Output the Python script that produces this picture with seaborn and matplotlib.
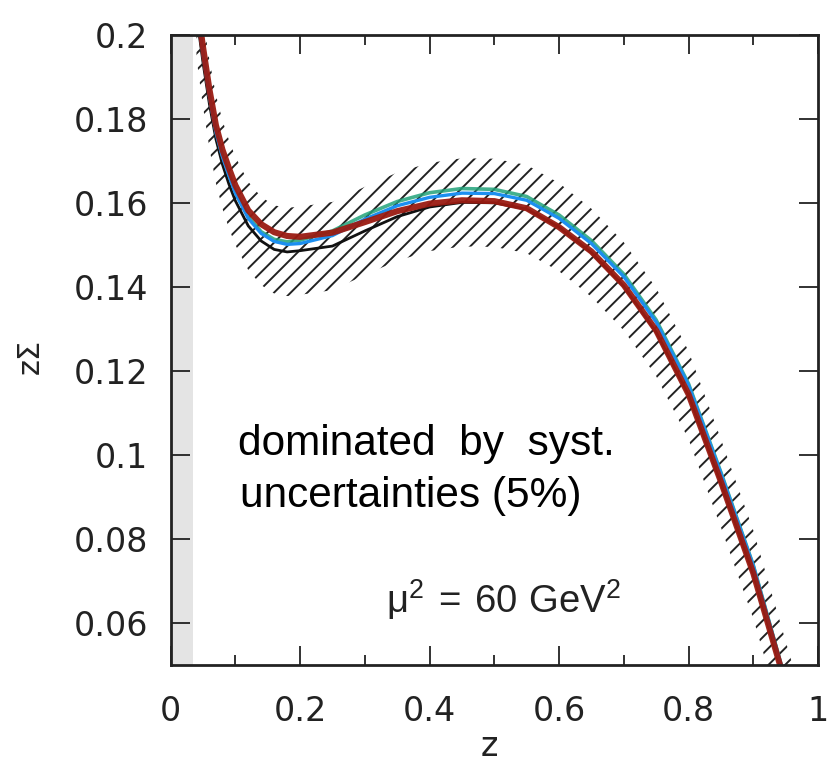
import matplotlib
matplotlib.use("Agg")
import matplotlib.pyplot as plt
import seaborn as sns
import pandas as pd
from matplotlib.ticker import FixedLocator, FixedFormatter

# ---- data ----
z = [0.040, 0.050, 0.060, 0.070, 0.080, 0.090, 0.100, 0.120, 0.140, 0.160,
     0.180, 0.200, 0.250, 0.300, 0.350, 0.400, 0.450, 0.500, 0.550, 0.600,
     0.650, 0.700, 0.750, 0.800, 0.850, 0.900, 0.940, 0.960]

black = [0.2050, 0.1935, 0.1835, 0.1752, 0.1692, 0.1645, 0.1605, 0.1545, 0.1509, 0.1489,
         0.1483, 0.1486, 0.1497, 0.1533, 0.1567, 0.1590, 0.1601, 0.1600, 0.1585, 0.1542,
         0.1481, 0.1401, 0.1292, 0.1142, 0.0932, 0.0715, 0.0504, 0.0398]
green = [0.2072, 0.1958, 0.1856, 0.1771, 0.1713, 0.1668, 0.1627, 0.1567, 0.1531, 0.1513,
         0.1507, 0.1511, 0.1533, 0.1571, 0.1603, 0.1624, 0.1634, 0.1632, 0.1615, 0.1571,
         0.1510, 0.1430, 0.1321, 0.1169, 0.0958, 0.0737, 0.0517, 0.0406]
blue = [0.2070, 0.1955, 0.1853, 0.1768, 0.1710, 0.1665, 0.1623, 0.1563, 0.1527, 0.1508,
        0.1501, 0.1503, 0.1522, 0.1561, 0.1593, 0.1613, 0.1623, 0.1622, 0.1606, 0.1563,
        0.1503, 0.1424, 0.1316, 0.1166, 0.0956, 0.0736, 0.0516, 0.0405]
red = [0.2085, 0.1972, 0.1870, 0.1785, 0.1727, 0.1683, 0.1642, 0.1582, 0.1549, 0.1530,
       0.1521, 0.1519, 0.1529, 0.1554, 0.1580, 0.1598, 0.1606, 0.1604, 0.1587, 0.1542,
       0.1484, 0.1404, 0.1296, 0.1144, 0.0936, 0.0718, 0.0506, 0.0400]

band_lo = [0.1945, 0.1830, 0.1730, 0.1647, 0.1587, 0.1540, 0.1500, 0.1440, 0.1404, 0.1384,
           0.1378, 0.1381, 0.1392, 0.1428, 0.1462, 0.1485, 0.1496, 0.1495, 0.1480, 0.1437,
           0.1376, 0.1296, 0.1187, 0.1037, 0.0827, 0.0610, 0.0399, 0.0293]
band_hi = [0.2155, 0.2040, 0.1940, 0.1857, 0.1797, 0.1750, 0.1710, 0.1650, 0.1614, 0.1594,
           0.1588, 0.1591, 0.1602, 0.1638, 0.1672, 0.1695, 0.1706, 0.1705, 0.1690, 0.1647,
           0.1586, 0.1506, 0.1397, 0.1247, 0.1037, 0.0820, 0.0609, 0.0503]

excluded_z = [0.0, 0.034]

xticks = [0, 0.2, 0.4, 0.6, 0.8, 1.0]
xticklabels = ["0", "0.2", "0.4", "0.6", "0.8", "1"]
xminor = [0.1, 0.3, 0.5, 0.7, 0.9]
yticks = [0.06, 0.08, 0.10, 0.12, 0.14, 0.16, 0.18, 0.20]
yticklabels = ["0.06", "0.08", "0.1", "0.12", "0.14", "0.16", "0.18", "0.2"]

# ---- styling ----
sns.set_style("ticks")
plt.rcParams["font.family"] = ["DejaVu Sans"]
plt.rcParams["font.sans-serif"] = ["DejaVu Sans"]
plt.rcParams["hatch.linewidth"] = 1.4
plt.rcParams["mathtext.fontset"] = "custom"
plt.rcParams["mathtext.rm"] = "Liberation Sans"

fig = plt.figure(figsize=(8.28, 7.65), dpi=100)
ax = fig.add_axes([0.206, 0.131, 0.782, 0.8235])

df = pd.DataFrame({"z": z, "black": black, "green": green, "blue": blue, "red": red})

ax.axvspan(excluded_z[0], excluded_z[1], color="#e4e4e4", lw=0, zorder=0)
ax.fill_between(z, band_lo, band_hi, facecolor="none", edgecolor="#222222",
                hatch="//", linewidth=0, zorder=1)

sns.lineplot(data=df, x="z", y="black", ax=ax, color="#111111", lw=2.0, zorder=2)
sns.lineplot(data=df, x="z", y="green", ax=ax, color="#22a37a", lw=2.6, alpha=0.85, zorder=3)
sns.lineplot(data=df, x="z", y="blue", ax=ax, color="#1c8ff0", lw=2.4, zorder=4)
sns.lineplot(data=df, x="z", y="red", ax=ax, color="#9a1b12", lw=4.4, alpha=0.95, zorder=5)

ax.set_xlim(0, 1)
ax.set_ylim(0.05, 0.2)

ax.xaxis.set_major_locator(FixedLocator(xticks))
ax.xaxis.set_major_formatter(FixedFormatter(xticklabels))
ax.xaxis.set_minor_locator(FixedLocator(xminor))
ax.yaxis.set_major_locator(FixedLocator(yticks))
ax.yaxis.set_major_formatter(FixedFormatter(yticklabels))

ax.tick_params(axis="both", which="both", direction="in", top=True, right=True,
               colors="#222222", width=1.3)
ax.tick_params(axis="both", which="major", length=13.5, labelsize=24,
               labelfontfamily="DejaVu Sans")
ax.tick_params(axis="x", which="minor", length=7)
ax.tick_params(axis="x", which="major", pad=22)
ax.tick_params(axis="y", which="major", pad=16)

for s in ax.spines.values():
    s.set_linewidth(2.0)
    s.set_color("#222222")
    s.set_zorder(10)

ax.set_xlabel("z", fontsize=24, color="#222222", family="DejaVu Sans")
ax.set_ylabel("zΣ", fontsize=22, color="#222222", family="DejaVu Sans")
ax.xaxis.set_label_coords(0.493, -0.104)
ax.yaxis.set_label_coords(-0.195, 0.49)

ax.text(0.1046, 0.0999, "dominated  by  syst.", fontsize=30.5,
        family=["Liberation Sans", "DejaVu Sans"], va="baseline", ha="left", color="black")
ax.text(0.107, 0.0876, "uncertainties (5%)", fontsize=30.5,
        family=["Liberation Sans", "DejaVu Sans"], va="baseline", ha="left", color="black")
ax.text(0.332, 0.0623, r"$\mathregular{μ^2\,=\,60\ GeV^2}$", fontsize=27.5,
        family=["Liberation Sans", "DejaVu Sans"], va="baseline", ha="left", color="#222222")

fig.savefig("out.png", dpi=100)
